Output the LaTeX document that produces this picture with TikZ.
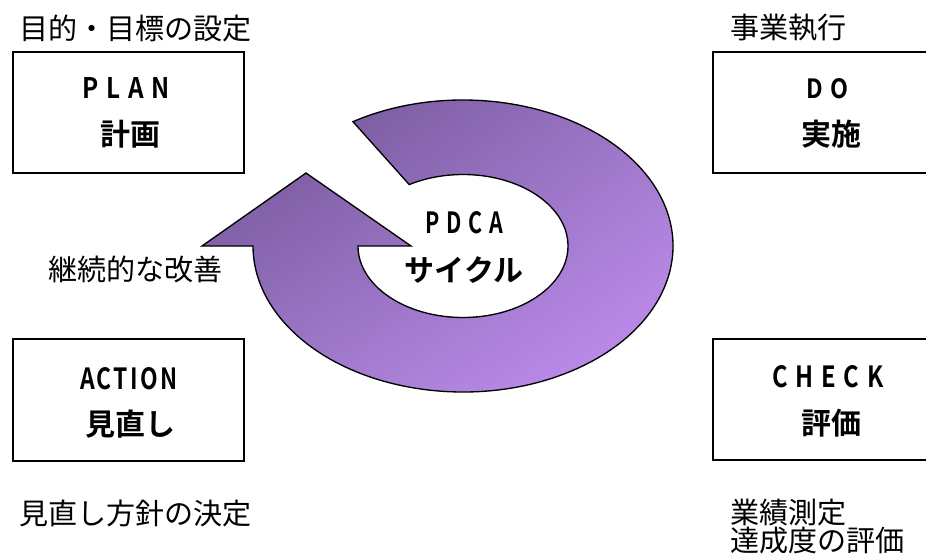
\documentclass[tikz,border=0pt]{standalone}
\usepackage{fontspec}
\usepackage{graphicx}
\usetikzlibrary{shadings}
\setmainfont{Noto Sans CJK JP}[BoldFont={Noto Sans CJK JP Bold}]
\newfontfamily\latinwide{Noto Sans CJK JP Bold}[LetterSpace=32]
\newfontfamily\latintight{Noto Sans CJK JP Bold}[LetterSpace=10]
\newcommand\fitlatin[3]{\resizebox{#1}{#2}{#3}}
\definecolor{arrdark}{HTML}{684C8A}
\definecolor{arrlight}{HTML}{CC94FC}
\definecolor{arrmid}{HTML}{9C78C8}
\tikzset{
  phasebox/.style={draw=black, line width=1pt, fill=white},
  boxlatin/.style={inner sep=0pt},
  boxjp/.style={font=\bfseries\fontsize{22.5}{22.5}\selectfont, inner sep=0pt},
  note/.style={font=\fontsize{21.8}{21.8}\selectfont, inner sep=0pt, anchor=west},
}
\begin{document}
\begin{tikzpicture}[x=0.75pt,y=-0.75pt]
\useasboundingbox (0,0) rectangle (926,554);
\clip (0,0) rectangle (926,554);
% boxes
\draw[phasebox] (13,52) rectangle (244,173);
\draw[phasebox] (713,52) rectangle (940,173);
\draw[phasebox] (13,339) rectangle (244,461);
\draw[phasebox] (713,339) rectangle (940,460);
% box texts
\node[boxlatin] (plan) at (126,88) {\fitlatin{65.25pt}{15.75pt}{\latinwide PLAN}};
\node[boxjp] (plan-jp) at (130,134) {計画};
\node[boxlatin] (do) at (827.5,88.3) {\fitlatin{31.5pt}{15pt}{\latinwide DO}};
\node[boxjp] (do-jp) at (831,134) {実施};
\node[boxlatin] (action) at (128.7,378.3) {\fitlatin{72.75pt}{16.5pt}{\latintight ACTION}};
\node[boxjp] (action-jp) at (130.3,424) {見直し};
\node[boxlatin] (check) at (828,377) {\fitlatin{83pt}{16.5pt}{\latinwide CHECK}};
\node[boxjp] (check-jp) at (831,423) {評価};
% notes
\node[note] (n1) at (19,28) {目的・目標の設定};
\node[note] (n2) at (730,28) {事業執行};
\node[note] (n3) at (48,269) {継続的な改善};
\node[note] (n4) at (19,513) {見直し方針の決定};
\node[note] (n5) at (730,513) {業績測定};
\node[note] (n6) at (730,541) {達成度の評価};
% circular arrow
\shade[upper left=arrdark, lower right=arrlight, upper right=arrmid, lower left=arrmid]
  (463,246) ++(-121.6:210 and 146) arc[start angle=-121.6, end angle=180, x radius=210, y radius=146]
  -- (202,246) -- (306,173) -- (411,246) -- (358,246)
  arc[start angle=180, end angle=-120.8, x radius=105, y radius=71.5] -- cycle;
\draw[black, line width=1pt, line join=miter]
  (463,246) ++(-121.6:210 and 146) arc[start angle=-121.6, end angle=180, x radius=210, y radius=146]
  -- (202,246) -- (306,173) -- (411,246) -- (358,246)
  arc[start angle=180, end angle=-120.8, x radius=105, y radius=71.5] -- cycle;
% center text
\node[boxlatin] (pdca) at (464,223) {\fitlatin{58.5pt}{16.5pt}{\latinwide PDCA}};
\node[boxjp] (cycle) at (464,270) {サイクル};
\end{tikzpicture}
\end{document}
